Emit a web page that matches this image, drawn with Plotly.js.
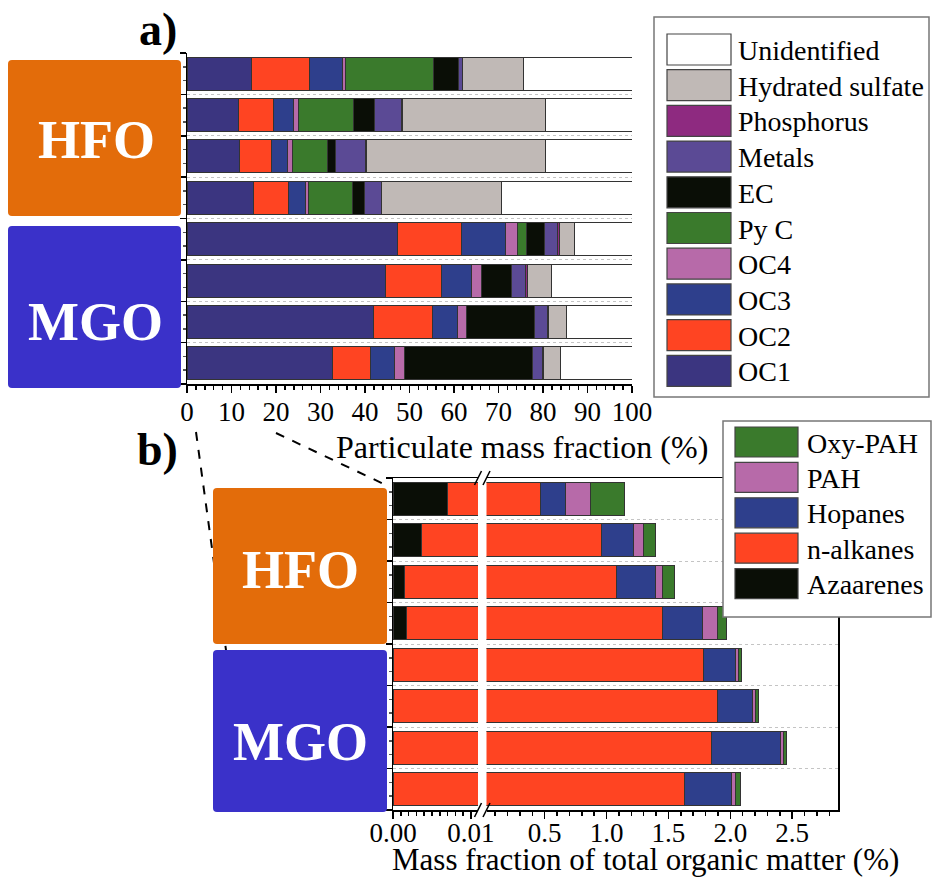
<!DOCTYPE html>
<html>
<head>
<meta charset="utf-8">
<script src="https://cdn.plot.ly/plotly-3.0.1.min.js"></script>
<style>html,body{margin:0;padding:0;background:#fff}#chart{width:932px;height:877px}</style>
</head>
<body>
<div id="chart"></div>
<script>
// ---------- Panel a data: particulate mass fraction (%) ----------
const rows = [0, 1, 2, 3, 4, 5, 6, 7]; // HFO x4 (top), MGO x4 (bottom)
const namesA = ['OC1', 'OC2', 'OC3', 'OC4', 'Py C', 'EC', 'Metals', 'Phosphorus', 'Hydrated sulfate', 'Unidentified'];
const colorsA = ['#3b3580', '#ff4422', '#2e3f8c', '#b76aa9', '#3a7a2c', '#0a0e06', '#5b4a95', '#8e2a80', '#c0b9b6', '#ffffff'];
const OC1 = [14.5, 11.5, 11.8, 14.9, 47.3, 44.6, 41.9, 32.7];
const OC2 = [13.1, 8.0, 7.1, 7.9, 14.3, 12.5, 13.2, 8.6];
const OC3 = [7.3, 4.5, 3.7, 3.9, 9.9, 6.9, 5.7, 5.4];
const OC4 = [0.7, 1.1, 1.2, 0.7, 2.7, 2.2, 2.0, 2.2];
const PyC = [19.8, 12.4, 7.7, 9.9, 2.1, 0, 0, 0];
const EC = [5.5, 4.6, 1.9, 2.5, 4.0, 6.7, 15.2, 28.7];
const Metals = [0.9, 6.2, 6.8, 3.9, 3.0, 3.1, 3.0, 2.3];
const Phosphorus = [0.2, 0.1, 0.1, 0.1, 0.4, 0.6, 0.3, 0.3];
const HydSulfate = [13.7, 32.1, 40.3, 26.9, 3.3, 5.2, 3.9, 3.8];
const Unidentified = [24.3, 19.5, 19.4, 29.3, 13.0, 18.2, 14.8, 16.0];
const seriesA = [OC1, OC2, OC3, OC4, PyC, EC, Metals, Phosphorus, HydSulfate, Unidentified];

// ---------- Panel b data: mass fraction of total organic matter (%) ----------
const namesB = ['Azaarenes', 'n-alkanes', 'Hopanes', 'PAH', 'Oxy-PAH'];
const colorsB = ['#0a0e06', '#ff4422', '#2e3f8c', '#b76aa9', '#3a7a2c'];
const Azaarenes = [0.0070, 0.0037, 0.0015, 0.0017, 0, 0, 0, 0];
const nAlkanes = [0.46, 0.957, 1.078, 1.454, 1.782, 1.893, 1.847, 1.629];
const Hopanes = [0.204, 0.261, 0.317, 0.323, 0.256, 0.287, 0.559, 0.381];
const PAH = [0.199, 0.080, 0.059, 0.116, 0.027, 0.022, 0.027, 0.030];
const OxyPAH = [0.274, 0.097, 0.094, 0.072, 0.029, 0.026, 0.024, 0.046];
const seriesB = [Azaarenes, nAlkanes, Hopanes, PAH, OxyPAH];

const groupLabels = ['HFO', 'MGO'];

// ---------- helpers (pixel -> paper) ----------
const W = 932, H = 877;
const X = p => p / W;
const Y = p => 1 - p / H;
const SERIF = '"Liberation Serif", "Times New Roman", Times, serif';

const traces = [];
seriesA.forEach((vals, i) => {
  traces.push({type: 'bar', orientation: 'h', x: vals, y: rows, width: 0.8,
    marker: {color: colorsA[i], line: {color: '#333', width: 1}},
    name: namesA[i], xaxis: 'x', yaxis: 'y', showlegend: false, hoverinfo: 'x+name'});
});
seriesB.forEach((vals, i) => {
  ['2', '3'].forEach(k => {
    traces.push({type: 'bar', orientation: 'h', x: vals, y: rows, width: 0.8,
      marker: {color: colorsB[i], line: {color: '#333', width: 1}},
      name: namesB[i], xaxis: 'x' + k, yaxis: 'y' + k, showlegend: false, hoverinfo: 'x+name'});
  });
});

const tickFont = {family: SERIF, size: 27, color: '#000'};
const tickFontB = {family: SERIF, size: 27, color: '#000'};
const yCommon = {range: [7.5, -0.5], tickmode: 'linear', tick0: 0.5, dtick: 1, ticks: 'outside', ticklen: 6,
  tickwidth: 1.5, tickcolor: '#000', showticklabels: false, showline: true, linecolor: '#000', linewidth: 1.5,
  showgrid: true, gridcolor: '#c4c4c4', griddash: 'dot', gridwidth: 1, zeroline: false,
  minor: {tick0: 0.5, dtick: 1 / 3, ticks: 'outside', ticklen: 3, tickcolor: '#555', showgrid: false}};

const shapes = [];
const annotations = [];

// dashed zoom lines
shapes.push({type: 'line', xref: 'paper', yref: 'paper', x0: X(196), y0: Y(432), x1: X(229), y1: Y(672),
  line: {color: '#000', width: 2, dash: 'dash'}});
shapes.push({type: 'line', xref: 'paper', yref: 'paper', x0: X(276), y0: Y(433), x1: X(388), y1: Y(486),
  line: {color: '#000', width: 2, dash: 'dash'}});

// group boxes
function rbox(x0, y0, x1, y1, color) {
  const r = 4;
  const path = `M${X(x0 + r)},${Y(y0)} L${X(x1 - r)},${Y(y0)} Q${X(x1)},${Y(y0)} ${X(x1)},${Y(y0 + r)} ` +
    `L${X(x1)},${Y(y1 - r)} Q${X(x1)},${Y(y1)} ${X(x1 - r)},${Y(y1)} L${X(x0 + r)},${Y(y1)} ` +
    `Q${X(x0)},${Y(y1)} ${X(x0)},${Y(y1 - r)} L${X(x0)},${Y(y0 + r)} Q${X(x0)},${Y(y0)} ${X(x0 + r)},${Y(y0)} Z`;
  shapes.push({type: 'path', xref: 'paper', yref: 'paper', path: path, fillcolor: color, line: {width: 0}});
}
const boxColors = ['#e36c0a', '#3a31c9'];
const boxes = [
  [8, 60, 181, 216, 0, 96, 140], [8, 226, 181, 388, 1, 95, 322],
  [213, 488, 387, 644, 0, 300, 570], [213, 650, 387, 812, 1, 300, 742]
];
boxes.forEach(b => {
  rbox(b[0], b[1], b[2], b[3], boxColors[b[4]]);
  annotations.push({xref: 'paper', yref: 'paper', x: X(b[5]), y: Y(b[6]), text: '<b>' + groupLabels[b[4]] + '</b>',
    showarrow: false, xanchor: 'center', yanchor: 'middle', font: {family: SERIF, size: 54, color: '#fff'}});
});

// legend a (custom, built from names/colours)
shapes.push({type: 'rect', xref: 'paper', yref: 'paper', x0: X(654), y0: Y(17), x1: X(929), y1: Y(397),
  fillcolor: '#fff', line: {color: '#777', width: 1.5}});
for (let k = 0; k < namesA.length; k++) {
  const i = namesA.length - 1 - k;
  const cy = 49.5 + k * 35.7;
  shapes.push({type: 'rect', xref: 'paper', yref: 'paper', x0: X(667), y0: Y(cy - 15.5), x1: X(731), y1: Y(cy + 15.5),
    fillcolor: colorsA[i], line: {color: '#444', width: 1.2}});
  annotations.push({xref: 'paper', yref: 'paper', x: X(736), y: Y(cy + 1), text: namesA[i], showarrow: false,
    xanchor: 'left', yanchor: 'middle', font: {family: SERIF, size: 28, color: '#000'}});
}

// legend b
shapes.push({type: 'rect', xref: 'paper', yref: 'paper', x0: X(723), y0: Y(421), x1: X(931), y1: Y(617),
  fillcolor: '#fff', line: {color: '#777', width: 1.5}});
for (let k = 0; k < namesB.length; k++) {
  const i = namesB.length - 1 - k;
  const cy = 442 + k * 35.4;
  shapes.push({type: 'rect', xref: 'paper', yref: 'paper', x0: X(735), y0: Y(cy - 15), x1: X(798), y1: Y(cy + 15),
    fillcolor: colorsB[i], line: {color: '#444', width: 1.2}});
  annotations.push({xref: 'paper', yref: 'paper', x: X(805), y: Y(cy + 1), text: namesB[i], showarrow: false,
    xanchor: 'left', yanchor: 'middle', font: {family: SERIF, size: 28, color: '#000'}});
}

// axis break marks
[[478, 810], [486.5, 810], [478, 478], [486.5, 478]].forEach(p => {
  shapes.push({type: 'line', xref: 'paper', yref: 'paper', x0: X(p[0] - 3.5), y0: Y(p[1] + 7), x1: X(p[0] + 3.5), y1: Y(p[1] - 7),
    line: {color: '#000', width: 1.5}});
});

// titles and panel letters
annotations.push({xref: 'paper', yref: 'paper', x: X(522), y: Y(447), text: 'Particulate mass fraction (%)',
  showarrow: false, xanchor: 'center', yanchor: 'middle', font: {family: SERIF, size: 32, color: '#000'}});
annotations.push({xref: 'paper', yref: 'paper', x: X(645), y: Y(859), text: 'Mass fraction of total organic matter (%)',
  showarrow: false, xanchor: 'center', yanchor: 'middle', font: {family: SERIF, size: 31, color: '#000'}});
annotations.push({xref: 'paper', yref: 'paper', x: X(158), y: Y(30), text: '<b>a)</b>',
  showarrow: false, xanchor: 'center', yanchor: 'middle', font: {family: SERIF, size: 46, color: '#000'}});
annotations.push({xref: 'paper', yref: 'paper', x: X(157), y: Y(449), text: '<b>b)</b>',
  showarrow: false, xanchor: 'center', yanchor: 'middle', font: {family: SERIF, size: 46, color: '#000'}});

const layout = {
  width: W, height: H, margin: {l: 0, r: 0, t: 0, b: 0}, paper_bgcolor: '#fff', plot_bgcolor: 'rgba(0,0,0,0)',
  barmode: 'stack', showlegend: false,
  xaxis: {domain: [X(187), X(632)], anchor: 'y', range: [0, 100], tickmode: 'linear', tick0: 0, dtick: 10,
    ticks: 'outside', ticklen: 7, tickwidth: 1.5, tickcolor: '#000', showline: true, linecolor: '#000', linewidth: 1.5,
    showgrid: false, zeroline: false, tickfont: tickFont, ticklabelstandoff: -4,
    minor: {dtick: 2, ticks: 'outside', ticklen: 4, tickcolor: '#000', showgrid: false}},
  yaxis: Object.assign({domain: [Y(384), Y(53)], anchor: 'x'}, yCommon),
  xaxis2: {domain: [X(393), X(478)], anchor: 'y2', range: [0, 0.0109], tickmode: 'linear', tick0: 0, dtick: 0.01,
    tickformat: '.2f', ticks: 'outside', ticklen: 7, tickwidth: 1.5, tickcolor: '#000', showline: true, mirror: true,
    linecolor: '#000', linewidth: 1.5, showgrid: false, zeroline: false, tickfont: tickFontB, ticklabelstandoff: -9,
    minor: {tick0: 0, dtick: 0.001, ticks: 'outside', ticklen: 4, tickcolor: '#000', showgrid: false}},
  xaxis3: {domain: [X(486.5), X(838)], anchor: 'y3', range: [0.03, 2.87], tickmode: 'linear', tick0: 0, dtick: 0.5,
    tickformat: '.1f', ticks: 'outside', ticklen: 7, tickwidth: 1.5, tickcolor: '#000', showline: true, mirror: true,
    linecolor: '#000', linewidth: 1.5, showgrid: false, zeroline: false, tickfont: tickFontB, ticklabelstandoff: -9,
    minor: {tick0: 0, dtick: 0.1, ticks: 'outside', ticklen: 4, tickcolor: '#000', showgrid: false}},
  yaxis2: Object.assign({domain: [Y(810), Y(478)], anchor: 'x2'}, yCommon),
  yaxis3: Object.assign({}, yCommon, {domain: [Y(810), Y(478)], anchor: 'x3', side: 'right', ticks: '', minor: {ticks: ''}}),
  shapes: shapes, annotations: annotations
};

Plotly.newPlot('chart', traces, layout, {displayModeBar: false, staticPlot: true});
</script>
</body>
</html>
